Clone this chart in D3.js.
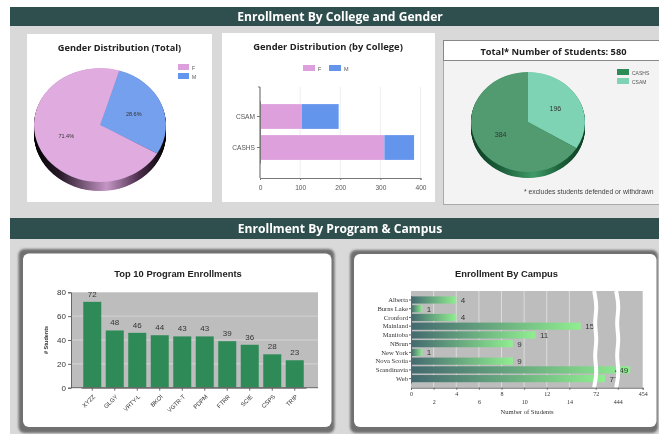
<!DOCTYPE html>
<html>
<head>
<meta charset="utf-8">
<script src="https://cdn.jsdelivr.net/npm/d3@7"></script>
<style>
  html, body { margin: 0; padding: 0; background: #fff; }
  svg { display: block; filter: blur(0.45px); }
  text { font-family: "Liberation Sans", Arial, sans-serif; }
  .cal { font-family: "Open Sans", sans-serif; }
  .srf { font-family: "Liberation Serif", serif; }
</style>
</head>
<body>
<div id="wrapper"></div>
<script>
/* DATA */
const genderKeys = ['F', 'M'];
const genderShares = [71.4, 28.6];

const colleges = ['CSAM', 'CASHS'];
const collegeF = [104, 310];
const collegeM = [92, 74];
const collegeTicks = [0, 100, 200, 300, 400];

const totalKeys = ['CASHS', 'CSAM'];
const totalValues = [384, 196];

const programs = ['XYZZ', 'GLGY', 'VRTY-L', 'BKOI', 'VGTR-T', 'PDPM', 'FTRR', 'SCIE', 'CSPS', 'TRIP'];
const programValues = [72, 48, 46, 44, 43, 43, 39, 36, 28, 23];
const programTicks = [0, 20, 40, 60, 80];

const campuses = ['Alberta', 'Burns Lake', 'Cronford', 'Mainland', 'Manitoba', 'NBrun', 'New York', 'Nova Scotia', 'Scandinavia', 'Web'];
const campusValues = [4, 1, 4, 15, 11, 9, 1, 9, 449, 77];
const campusTicks = [0, 2, 4, 6, 8, 10, 12, 14, 72, 444, 454];
const campusBreaks = [72, 444];

/* COLOURS */
const pink = '#dda0dd', blue = '#6495ed', seaGreen = '#2e8b57', mint = '#7dd3b3';
const header = '#2f4f4f', panel = '#d9d9d9';

const svg = d3.select('#wrapper').append('svg').attr('width', 659).attr('height', 434);
const defs = svg.append('defs');

/* BACKGROUND */
svg.append('rect').attr('x', 10).attr('y', 7).attr('width', 649).attr('height', 427).attr('fill', panel);

function banner(y, h, label) {
  svg.append('rect').attr('x', 10).attr('y', y).attr('width', 649).attr('height', h).attr('fill', header);
  svg.append('text').attr('class', 'cal').attr('x', 340).attr('y', y + h / 2 + 4.5)
    .attr('text-anchor', 'middle').attr('fill', '#fff').attr('font-size', 12.1).attr('font-weight', 700).text(label);
}
banner(7, 19, 'Enrollment By College and Gender');
banner(218, 21, 'Enrollment By Program & Campus');

/* PIE HELPERS */
function sideGradient(id, stops) {
  const g = defs.append('linearGradient').attr('id', id);
  stops.forEach(s => g.append('stop').attr('offset', s[0]).attr('stop-color', s[1]));
}
sideGradient('pieSideF', [[0, '#000'], [0.2, '#2a1a2a'], [0.55, '#c596c5'], [0.8, '#4a2d4a'], [1, '#000']]);
sideGradient('pieSideG', [[0, '#0c3d22'], [0.25, '#1a5c38'], [0.55, '#3f9a68'], [0.8, '#1a5c38'], [1, '#0c3d22']]);

function drawPie(cx, cy, rx, ry, depth, values, startDeg, colors, sideId, labels, labelFont) {
  const g = svg.append('g').attr('transform', `translate(${cx},${cy})`);
  const sy = ry / rx;
  const arc = d3.arc().innerRadius(0).outerRadius(rx);
  const pie = d3.pie().sort(null)
    .startAngle(startDeg * Math.PI / 180)
    .endAngle((startDeg + 360) * Math.PI / 180);

  // stacked discs make the rim
  g.selectAll('path.rim').data(d3.range(depth, 0, -0.5)).enter().append('path')
    .attr('class', 'rim')
    .attr('transform', d => `translate(0,${d}) scale(1,${sy})`)
    .attr('d', arc({ startAngle: 0, endAngle: 2 * Math.PI }))
    .attr('fill', `url(#${sideId})`);

  const slices = pie(values);
  g.selectAll('path.top').data(slices).enter().append('path')
    .attr('class', 'top')
    .attr('transform', `scale(1,${sy})`)
    .attr('d', arc)
    .attr('fill', (d, i) => colors[i]);

  const labelArc = d3.arc().innerRadius(rx * 0.55).outerRadius(rx * 0.55);
  g.selectAll('text').data(slices).enter().append('text')
    .attr('x', d => labelArc.centroid(d)[0])
    .attr('y', d => labelArc.centroid(d)[1] * sy + 2)
    .attr('text-anchor', 'middle')
    .attr('font-size', labelFont)
    .attr('fill', '#333')
    .text((d, i) => labels[i]);
}

function legendItem(x, y, w, h, color, label, size) {
  svg.append('rect').attr('x', x).attr('y', y).attr('width', w).attr('height', h).attr('fill', color);
  svg.append('text').attr('x', x + w + 3).attr('y', y + h - 0.5).attr('font-size', size).attr('fill', '#555').text(label);
}

/* GENDER TOTAL */
svg.append('rect').attr('x', 27).attr('y', 34).attr('width', 185).attr('height', 168).attr('fill', '#fff');
svg.append('text').attr('class', 'cal').attr('x', 119.5).attr('y', 51).attr('text-anchor', 'middle')
  .attr('font-size', 9.2).attr('font-weight', 700).attr('fill', '#222').text('Gender Distribution (Total)');
drawPie(100, 125, 66, 57, 9, [genderShares[1], genderShares[0]], 17, ['#74a0ee', '#e0ace0'],
  'pieSideF', genderShares.slice().reverse().map(d => d.toFixed(1) + '%'), 5.5);
genderKeys.forEach((k, i) => legendItem(178, 64 + i * 9, 11, 6, i ? blue : pink, k, 5));

/* GENDER BY COLLEGE */
svg.append('rect').attr('x', 222).attr('y', 33).attr('width', 213).attr('height', 169).attr('fill', '#fff');
svg.append('text').attr('class', 'cal').attr('x', 328).attr('y', 50).attr('text-anchor', 'middle')
  .attr('font-size', 9.4).attr('font-weight', 700).attr('fill', '#222').text('Gender Distribution (by College)');
legendItem(303, 65, 12, 6, pink, 'F', 5.5);
legendItem(329, 65, 12, 6, blue, 'M', 5.5);

const collegeX = d3.scaleLinear().domain([0, 400]).range([260, 420.5]);
const collegeY = d3.scaleBand().domain(colleges).range([101, 163]).paddingInner(0.2).paddingOuter(0.1);
const collegeG = svg.append('g');
collegeG.selectAll('line.grid').data(collegeTicks.slice(1)).enter().append('line')
  .attr('class', 'grid').attr('x1', collegeX).attr('x2', collegeX).attr('y1', 87).attr('y2', 178)
  .attr('stroke', '#eee');
collegeG.selectAll('rect.f').data(colleges).enter().append('rect').attr('class', 'f')
  .attr('x', collegeX(0)).attr('y', d => collegeY(d)).attr('height', collegeY.bandwidth())
  .attr('width', (d, i) => collegeX(collegeF[i]) - collegeX(0)).attr('fill', pink);
collegeG.selectAll('rect.m').data(colleges).enter().append('rect').attr('class', 'm')
  .attr('x', (d, i) => collegeX(collegeF[i])).attr('y', d => collegeY(d)).attr('height', collegeY.bandwidth())
  .attr('width', (d, i) => collegeX(collegeF[i] + collegeM[i]) - collegeX(collegeF[i])).attr('fill', blue);
const collegeAxisX = collegeG.append('g').attr('transform', 'translate(0,178)')
  .call(d3.axisBottom(collegeX).tickValues(collegeTicks).tickSize(2).tickPadding(5));
const collegeAxisY = collegeG.append('g').attr('transform', 'translate(260,0)')
  .call(d3.axisLeft(collegeY).tickSize(3).tickSizeOuter(0).tickPadding(2));
collegeG.append('line').attr('x1', 260).attr('x2', 260).attr('y1', 87).attr('y2', 178).attr('stroke', '#777').attr('stroke-width', 1.2);
collegeG.append('line').attr('x1', 258).attr('x2', 260).attr('y1', 87).attr('y2', 87).attr('stroke', '#777');
[collegeAxisX, collegeAxisY].forEach(a => {
  a.selectAll('.domain').attr('stroke', '#777');
  a.selectAll('line').attr('stroke', '#777');
  a.selectAll('text').attr('font-size', 6.6).attr('fill', '#555').attr('font-family', '"Noto Sans", sans-serif');
});

/* TOTAL STUDENTS */
svg.append('rect').attr('x', 443.5).attr('y', 40.5).attr('width', 216).attr('height', 164).attr('fill', '#f3f3f3').attr('stroke', '#aaa');
svg.append('rect').attr('x', 443.5).attr('y', 40.5).attr('width', 216).attr('height', 20).attr('fill', '#fff').attr('stroke', '#888');
svg.append('text').attr('class', 'cal').attr('x', 553.5).attr('y', 54.5).attr('text-anchor', 'middle')
  .attr('font-size', 9.3).attr('font-weight', 700).attr('fill', '#222').text('Total* Number of Students: ' + d3.sum(totalValues));
drawPie(528, 122, 57, 50, 6, [totalValues[1], totalValues[0]], 0, [mint, '#529a70'],
  'pieSideG', [totalValues[1], totalValues[0]], 7);
totalKeys.forEach((k, i) => legendItem(617, 69 + i * 9, 12, 6, i ? mint : seaGreen, k, 5));
svg.append('text').attr('x', 524).attr('y', 194).attr('font-size', 6.8).attr('fill', '#444')
  .text('* excludes students defended or withdrawn');

/* RAISED CARDS */
const soft = defs.append('filter').attr('id', 'soft').attr('x', '-5%').attr('y', '-5%').attr('width', '110%').attr('height', '110%');
soft.append('feGaussianBlur').attr('stdDeviation', 1.3);
function card(outer, inner) {
  svg.append('rect').attr('x', outer[0]).attr('y', outer[1]).attr('width', outer[2]).attr('height', outer[3])
    .attr('rx', 6).attr('fill', '#6f6f6f').attr('filter', 'url(#soft)');
  svg.append('rect').attr('x', inner[0]).attr('y', inner[1]).attr('width', inner[2]).attr('height', inner[3])
    .attr('rx', 6).attr('fill', '#fff');
}
card([18.5, 249, 316, 184], [23, 253.5, 308.5, 173.5]);
card([350, 250, 308, 183], [354, 254, 302.5, 173]);

/* TOP PROGRAMS */
svg.append('text').attr('x', 178).attr('y', 277).attr('text-anchor', 'middle').attr('font-size', 9.4)
  .attr('font-weight', 700).attr('fill', '#222').text('Top 10 Program Enrollments');
const progX = d3.scaleBand().domain(programs).range([81, 306]).paddingInner(0.2).paddingOuter(0.1);
const progY = d3.scaleLinear().domain([0, 80]).range([387.7, 292.3]);
const progG = svg.append('g');
progG.append('rect').attr('x', 71).attr('y', progY(80)).attr('width', 247).attr('height', progY(0) - progY(80)).attr('fill', '#bdbdbd');
progG.selectAll('line.grid').data(programTicks.slice(1, -1)).enter().append('line').attr('class', 'grid')
  .attr('x1', 71).attr('x2', 318).attr('y1', progY).attr('y2', progY).attr('stroke', '#d4d4d4');
progG.selectAll('rect.bar').data(programs).enter().append('rect').attr('class', 'bar')
  .attr('x', d => progX(d)).attr('width', progX.bandwidth())
  .attr('y', (d, i) => progY(programValues[i])).attr('height', (d, i) => progY(0) - progY(programValues[i]))
  .attr('fill', seaGreen);
progG.selectAll('text.val').data(programs).enter().append('text').attr('class', 'val')
  .attr('x', d => progX(d) + progX.bandwidth() / 2).attr('y', (d, i) => progY(programValues[i]) - 5)
  .attr('text-anchor', 'middle').attr('font-size', 8).attr('fill', '#333').text((d, i) => programValues[i]);
const progAxisY = progG.append('g').attr('transform', 'translate(71,0)')
  .call(d3.axisLeft(progY).tickValues(programTicks).tickSize(3).tickPadding(2));
progAxisY.selectAll('text').attr('font-size', 8).attr('fill', '#333');
const progAxisX = progG.append('g').attr('transform', `translate(0,${progY(0)})`)
  .call(d3.axisBottom(progX).tickSize(3).tickSizeOuter(0));
progG.append('line').attr('x1', 71).attr('x2', 318).attr('y1', progY(0)).attr('y2', progY(0)).attr('stroke', '#666');
progAxisX.select('.domain').attr('stroke', 'none');
progAxisX.selectAll('text').attr('font-size', 6).attr('fill', '#333')
  .attr('text-anchor', 'end').attr('transform', 'translate(-3,3) rotate(-45)').attr('dx', '0').attr('dy', '0.5em');
[progAxisX, progAxisY].forEach(a => a.selectAll('line,.domain').attr('stroke', '#666'));
svg.append('text').attr('transform', 'translate(47.5,340) rotate(-90)').attr('text-anchor', 'middle')
  .attr('font-size', 5.5).attr('font-weight', 700).attr('fill', '#333').text('# Students');

/* CAMPUS */
svg.append('text').attr('x', 506.5).attr('y', 277).attr('text-anchor', 'middle').attr('font-size', 9.4)
  .attr('font-weight', 700).attr('fill', '#222').text('Enrollment By Campus');
const campX = d3.scaleLinear().domain([0, 16, 72, 77, 444, 454]).range([411, 592, 595.7, 605, 617.7, 642.7]);
const campY = d3.scaleBand().domain(campuses).range([295.6, 383]).paddingInner(0.18).paddingOuter(0.09);
const campG = svg.append('g');
const campGrad = defs.append('linearGradient').attr('id', 'campBar');
campGrad.append('stop').attr('offset', 0).attr('stop-color', '#43696f');
campGrad.append('stop').attr('offset', 1).attr('stop-color', '#90ee90');

campG.append('rect').attr('x', campX(0)).attr('y', 291).attr('width', campX(454) - campX(0)).attr('height', 96.7).attr('fill', '#bdbdbd');
campG.selectAll('line.grid').data(campusTicks.slice(1, 8)).enter().append('line').attr('class', 'grid')
  .attr('x1', campX).attr('x2', campX).attr('y1', 291).attr('y2', 387.7).attr('stroke', '#dcdcdc');
campG.selectAll('rect.bar').data(campuses).enter().append('rect').attr('class', 'bar')
  .attr('x', campX(0)).attr('y', d => campY(d)).attr('height', campY.bandwidth())
  .attr('width', (d, i) => campX(campusValues[i]) - campX(0)).attr('fill', 'url(#campBar)');
campG.selectAll('text.val').data(campuses).enter().append('text').attr('class', 'val')
  .attr('x', (d, i) => campusValues[i] > 400 ? campX(campusValues[i]) - 2 : campX(campusValues[i]) + 4.5)
  .attr('y', d => campY(d) + campY.bandwidth() / 2 + 3)
  .attr('text-anchor', (d, i) => campusValues[i] > 400 ? 'end' : 'start')
  .attr('font-size', 8).attr('fill', '#333').text((d, i) => campusValues[i]);

// torn axis breaks sit over the bars
const wave = d3.line().curve(d3.curveBasis);
campusBreaks.forEach(b => {
  const x = campX(b);
  const pts = d3.range(0, 7).map(i => [x + (i % 2 ? 1.6 : -1.6), 291 + i * 96.7 / 6]);
  campG.append('path').attr('d', wave(pts)).attr('fill', 'none').attr('stroke', '#fff').attr('stroke-width', 4);
});

const campAxisY = campG.append('g').attr('transform', `translate(${campX(0)},0)`)
  .call(d3.axisLeft(campY).tickSize(2).tickSizeOuter(0).tickPadding(1));
campAxisY.selectAll('text').attr('class', 'srf').attr('font-size', 6.6).attr('fill', '#333');
const campAxisX = campG.append('g').attr('transform', 'translate(0,387.7)')
  .call(d3.axisBottom(campX).tickValues(campusTicks).tickSize(2).tickPadding(2));
campAxisX.selectAll('text').attr('class', 'srf').attr('font-size', 6).attr('fill', '#333')
  .attr('dy', (d, i) => (i % 2 && i < 10 ? '2.1em' : '0.71em'));
[campAxisX, campAxisY].forEach(a => a.selectAll('line,.domain').attr('stroke', '#666'));
svg.append('text').attr('class', 'srf').attr('x', 527).attr('y', 414).attr('text-anchor', 'middle')
  .attr('font-size', 6.6).attr('fill', '#333').text('Number of Students');
</script>
</body>
</html>
